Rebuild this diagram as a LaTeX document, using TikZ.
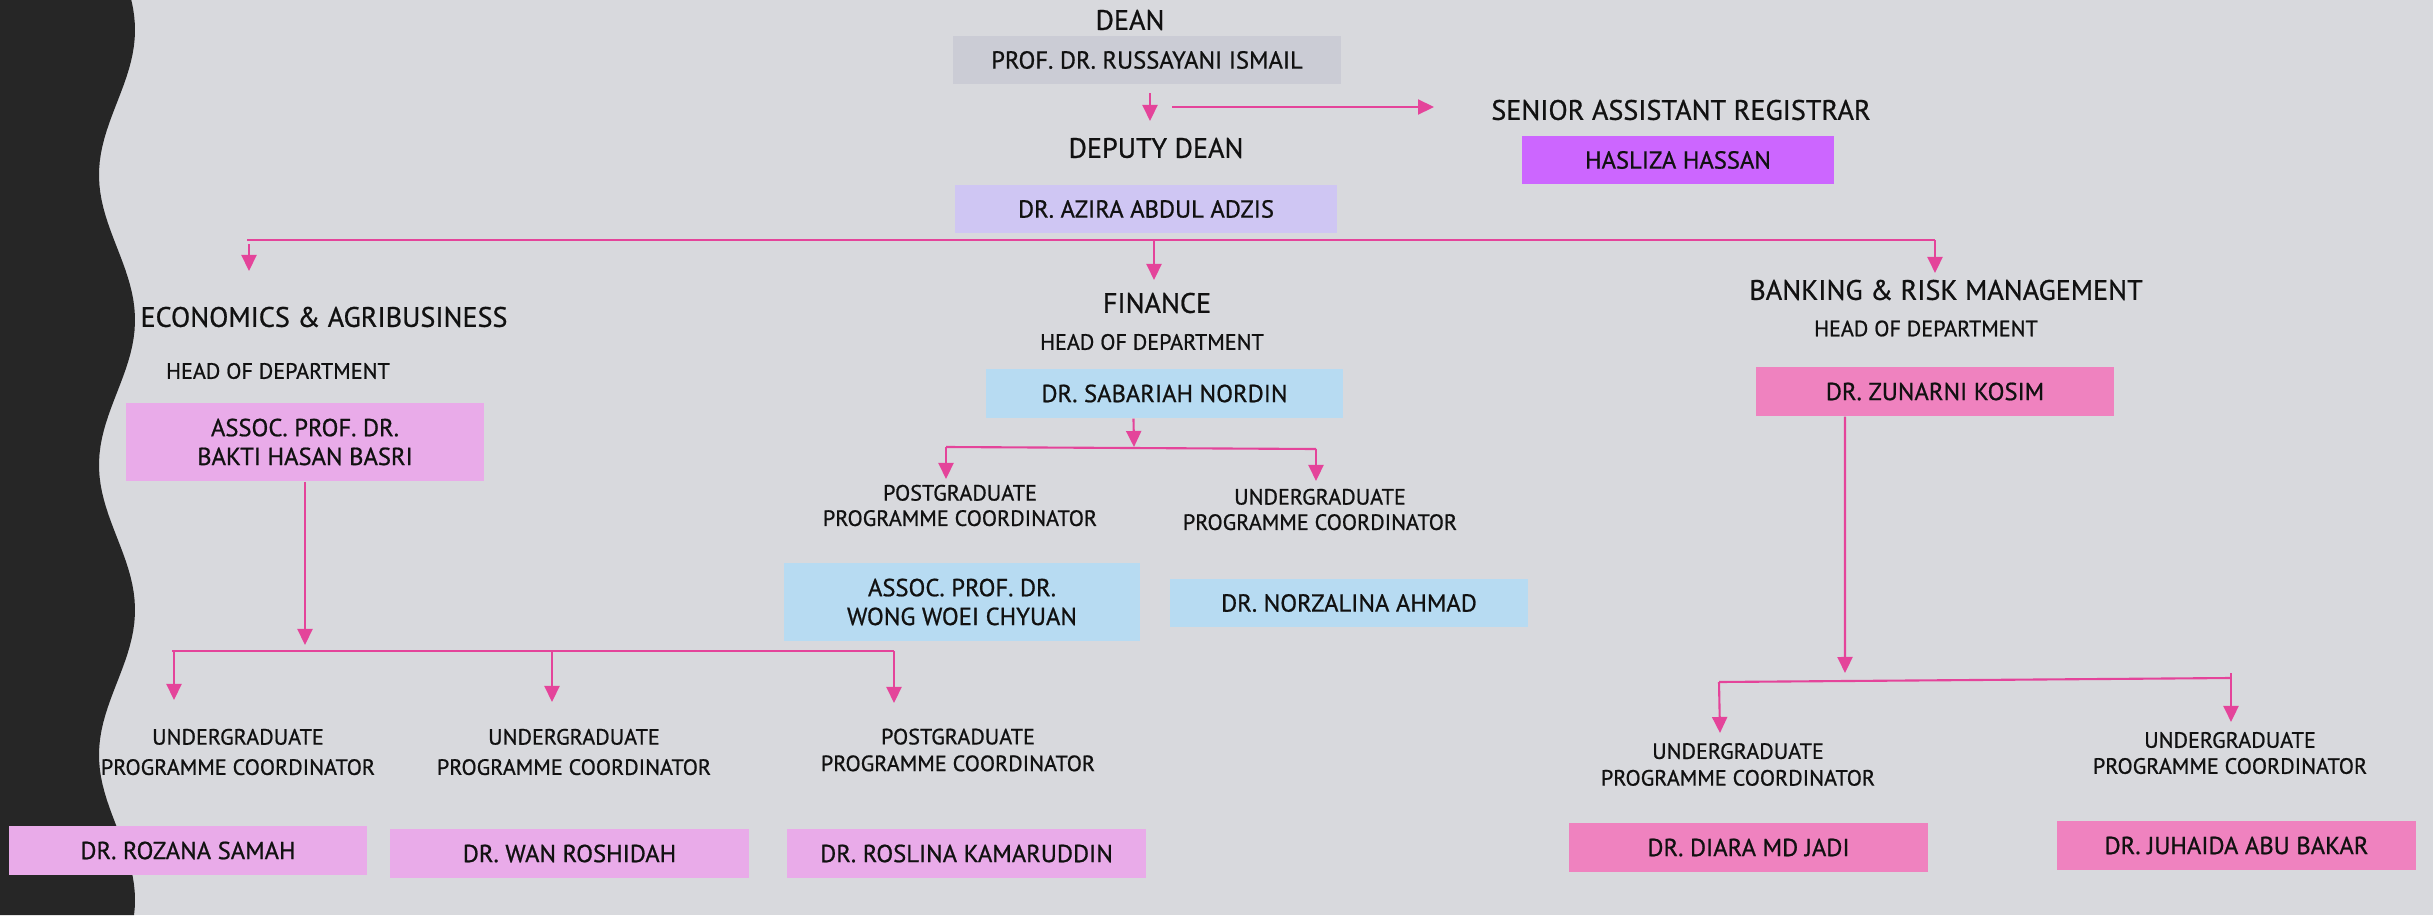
\documentclass[tikz,border=0pt]{standalone}
\usepackage{fontspec}
\setmainfont{PT Sans}[FakeBold=0.8]
\usetikzlibrary{arrows.meta}
\definecolor{bg}{HTML}{D8D9DD}
\definecolor{darkstrip}{HTML}{262626}
\definecolor{deanc}{HTML}{CBCCD5}
\definecolor{depc}{HTML}{CFC6F3}
\definecolor{regc}{HTML}{CC66FF}
\definecolor{finc}{HTML}{B7DBF2}
\definecolor{ecoc}{HTML}{E9ABE9}
\definecolor{bnkc}{HTML}{EF82BF}
\definecolor{linec}{HTML}{E4449A}
\definecolor{txt}{HTML}{111111}
\begin{document}
\begin{tikzpicture}[x=0.01cm,y=-0.01cm,
  box/.style={draw=none, inner sep=0, minimum width=3.58cm, minimum height=0.49cm, align=center, text=txt, font=\fontsize{7}{8.2}\selectfont},
  ttl/.style={inner sep=0, text=txt, font=\fontsize{8}{9.6}\selectfont},
  lab/.style={inner sep=0, align=center, text=txt, font=\fontsize{6.3}{8.6}\selectfont},
  ln/.style={draw=linec, line width=0.6pt},
  arr/.style={ln, -{Triangle[length=1.6mm,width=1.5mm]}}]
\useasboundingbox (0,0) rectangle (2433,915);
\fill[bg] (0,0) rectangle (2433,915);
\fill[darkstrip] (0,0) -- plot[domain=0:915, samples=120, variable=\t] ({117+18*cos((\t-30)*1.24138)}, \t) -- (0,915) -- cycle;

% top level
\node[ttl] (deanlab) at (1130,20) {DEAN};
\node[box, fill=deanc, minimum width=3.88cm, minimum height=0.48cm] (dean) at (1147,60) {PROF. DR. RUSSAYANI ISMAIL};
\node[ttl] (deplab) at (1156,148) {DEPUTY DEAN};
\node[box, fill=depc, minimum width=3.82cm, minimum height=0.48cm] (deputy) at (1146,209) {DR. AZIRA ABDUL ADZIS};
\node[ttl] (reglab) at (1681,110) {SENIOR ASSISTANT REGISTRAR};
\node[box, fill=regc, minimum width=3.12cm, minimum height=0.48cm] (reg) at (1678,160) {HASLIZA HASSAN};

% economics
\node[ttl] (ecolab) at (324,317) {ECONOMICS \& AGRIBUSINESS};
\node[lab] (ecohod) at (278,371) {HEAD OF DEPARTMENT};
\node[box, fill=ecoc, minimum width=3.57cm, minimum height=0.78cm] (bakti) at (305,442) {ASSOC. PROF. DR.\\BAKTI HASAN BASRI};
\node[lab] (eco1) at (238,752) {UNDERGRADUATE\\PROGRAMME COORDINATOR};
\node[lab] (eco2) at (574,752) {UNDERGRADUATE\\PROGRAMME COORDINATOR};
\node[lab, font=\fontsize{6.3}{7.6}\selectfont] (eco3) at (958,750) {POSTGRADUATE\\PROGRAMME COORDINATOR};
\node[box, fill=ecoc] (rozana) at (188,850.5) {DR. ROZANA SAMAH};
\node[box, fill=ecoc] (wan) at (569.5,853.5) {DR. WAN ROSHIDAH};
\node[box, fill=ecoc] (roslina) at (966.5,853.5) {DR. ROSLINA KAMARUDDIN};

% finance
\node[ttl] (finlab) at (1157,303) {FINANCE};
\node[lab] (finhod) at (1152,342) {HEAD OF DEPARTMENT};
\node[box, fill=finc, minimum width=3.57cm] (sabariah) at (1164.5,393.5) {DR. SABARIAH NORDIN};
\node[lab, font=\fontsize{6.3}{7.2}\selectfont] (fin1) at (960,505.5) {POSTGRADUATE\\PROGRAMME COORDINATOR};
\node[lab, font=\fontsize{6.3}{7.2}\selectfont] (fin2) at (1320,509.5) {UNDERGRADUATE\\PROGRAMME COORDINATOR};
\node[box, fill=finc, minimum width=3.56cm, minimum height=0.78cm] (wong) at (962,602) {ASSOC. PROF. DR.\\WONG WOEI CHYUAN};
\node[box, fill=finc, minimum height=0.48cm] (norzalina) at (1349,603) {DR. NORZALINA AHMAD};

% banking
\node[ttl] (bnklab) at (1946,290) {BANKING \& RISK MANAGEMENT};
\node[lab] (bnkhod) at (1926,328.5) {HEAD OF DEPARTMENT};
\node[box, fill=bnkc] (zunarni) at (1935,391.5) {DR. ZUNARNI KOSIM};
\node[lab, font=\fontsize{6.3}{7.6}\selectfont] (bnk1) at (1738,764.5) {UNDERGRADUATE\\PROGRAMME COORDINATOR};
\node[lab, font=\fontsize{6.3}{7.4}\selectfont] (bnk2) at (2230,753) {UNDERGRADUATE\\PROGRAMME COORDINATOR};
\node[box, fill=bnkc] (diara) at (1748.5,847.5) {DR. DIARA MD JADI};
\node[box, fill=bnkc] (juhaida) at (2236.5,845.5) {DR. JUHAIDA ABU BAKAR};

% coordinates
\coordinate (d1) at (1150,93);
\coordinate (d2) at (1150,121);
\coordinate (r1) at (1172,107);
\coordinate (r2) at (1434,107);
\coordinate (barL) at (247,240);
\coordinate (barC) at (1154,240);
\coordinate (barR) at (1935,240);
\coordinate (tipL) at (249,271);
\coordinate (tipC) at (1154,280);
\coordinate (tipR) at (1935,273);
\coordinate (ej) at (305,645);
\coordinate (ebL) at (172,651);
\coordinate (ebM) at (552,651);
\coordinate (ebR) at (894,651);
\coordinate (et1) at (174,700);
\coordinate (et2) at (552,702);
\coordinate (et3) at (894,703);
\coordinate (fj) at (1134,447);
\coordinate (fbL) at (946,447);
\coordinate (fbR) at (1316,449);
\coordinate (ft1) at (946,479);
\coordinate (ft2) at (1316,481);
\coordinate (bj) at (1845,673);
\coordinate (bbL) at (1719,682);
\coordinate (bbR) at (2231,678);
\coordinate (bt1) at (1720,733);
\coordinate (bt2) at (2231,722);

% connectors
\draw[arr] (d1) -- (d2);
\draw[arr] (r1) -- (r2);
\draw[ln] (barL) -- (barR);
\draw[arr] (barL) ++(2,4) -- (tipL);
\draw[arr] (barC) -- (tipC);
\draw[arr] (barR) -- (tipR);
\draw[arr] (bakti.south) -- (ej);
\draw[ln] (ebL) -- (ebR);
\draw[arr] (ebL) ++(2,0) -- (et1);
\draw[arr] (ebM) -- (et2);
\draw[arr] (ebR) -- (et3);
\draw[arr] ([xshift=-0.31cm]sabariah.south) -- (fj);
\draw[ln] (fbL) -- (fbR);
\draw[arr] (fbL) -- (ft1);
\draw[arr] (fbR) -- (ft2);
\draw[arr] ([xshift=-0.9cm]zunarni.south) -- (bj);
\draw[ln] (bbL) -- (bbR);
\draw[arr] (bbL) -- (bt1);
\draw[arr] (bbR) ++(0,-5) -- (bt2);
\end{tikzpicture}
\end{document}
